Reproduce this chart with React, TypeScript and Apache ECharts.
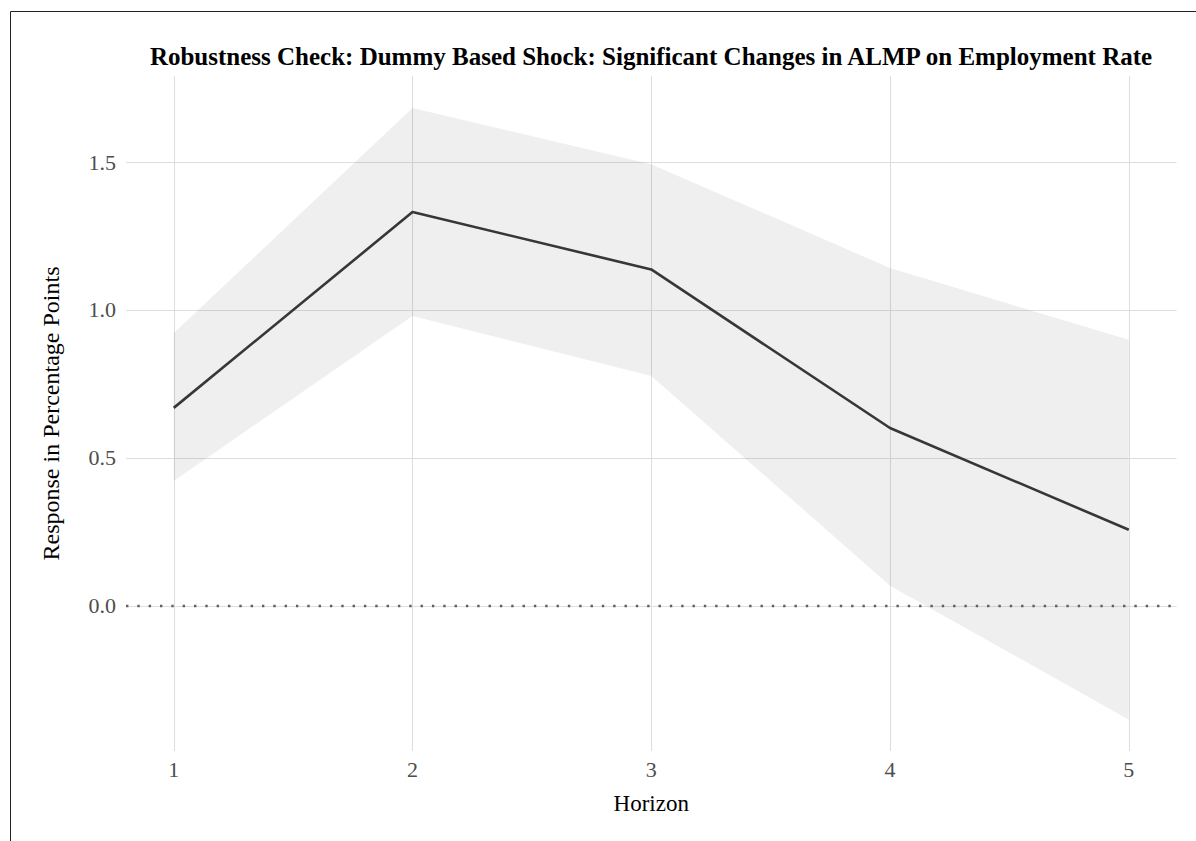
import React, { useEffect, useRef } from "react";
import * as echarts from "echarts";

const horizons = [1, 2, 3, 4, 5];
const response = [0.669, 1.331, 1.137, 0.601, 0.257];
const upper = [0.922, 1.683, 1.493, 1.142, 0.899];
const lower = [0.422, 0.98, 0.777, 0.068, -0.385];
const xTicks = [1, 2, 3, 4, 5];
const yTicks = [0, 0.5, 1.0, 1.5];
const yTickLabels = ["0.0", "0.5", "1.0", "1.5"];
const zeroLine = [0];

const TITLE = "Robustness Check: Dummy Based Shock: Significant Changes in ALMP on Employment Rate";
const FONT = "'Liberation Serif', 'Times New Roman', 'DejaVu Serif', serif";

export default function App() {
  const ref = useRef<HTMLDivElement>(null);
  useEffect(() => {
    if (!ref.current) return;
    const chart = echarts.init(ref.current, null, { renderer: "svg" });
    const W = 1196;
    const H = 841;
    const left = 126;
    const right = 1176.5;
    const top = 76;
    const bottom = 751;
    chart.setOption({
      animation: false,
      backgroundColor: "#ffffff",
      textStyle: { fontFamily: FONT },
      grid: { left: left, right: W - right, top: top, bottom: H - bottom, containLabel: false },
      graphic: [
        { type: "line", shape: { x1: 10.5, y1: 11.5, x2: W, y2: 11.5 }, style: { stroke: "#222", lineWidth: 1 }, silent: true },
        { type: "line", shape: { x1: 10.5, y1: 11.5, x2: 10.5, y2: H }, style: { stroke: "#222", lineWidth: 1 }, silent: true },
        {
          type: "text",
          x: 651,
          y: 56,
          style: {
            text: TITLE,
            fontFamily: FONT,
            fontWeight: "bold",
            fontSize: 25,
            fill: "#000",
            textAlign: "center",
            textVerticalAlign: "middle",
          },
          silent: true,
        },
      ],
      xAxis: {
        type: "value",
        min: 0.8,
        max: 5.2,
        name: "Horizon",
        nameLocation: "middle",
        nameGap: 41,
        nameTextStyle: { fontFamily: FONT, fontSize: 23, color: "#000" },
        axisLine: { show: false },
        axisTick: { show: false },
        splitLine: { show: false },
        axisLabel: {
          margin: 7,
          fontFamily: FONT,
          fontSize: 22,
          color: "#4d4d4d",
          formatter: (v: number) => {
            const i = xTicks.indexOf(v);
            return i >= 0 ? String(xTicks[i]) : "";
          },
        },
      },
      yAxis: {
        type: "value",
        min: -0.491,
        max: 1.791,
        name: "Response in Percentage Points",
        nameLocation: "middle",
        nameGap: 63,
        nameRotate: 90,
        nameTextStyle: { fontFamily: FONT, fontSize: 24, color: "#000" },
        axisLine: { show: false },
        axisTick: { show: false },
        splitLine: { show: false },
        axisLabel: {
          margin: 10,
          fontFamily: FONT,
          fontSize: 22,
          color: "#4d4d4d",
          formatter: (v: number) => {
            const i = yTicks.findIndex((t) => Math.abs(t - v) < 1e-9);
            return i >= 0 ? yTickLabels[i] : "";
          },
        },
      },
      series: [
        {
          type: "custom",
          name: "band",
          data: horizons.map((h, i) => [h, lower[i], upper[i]]),
          encode: { x: 0, y: [1, 2] },
          silent: true,
          z: 2,
          renderItem: (params: any, api: any) => {
            if (params.dataIndex !== 0) return null;
            const upPts = horizons.map((h, i) => api.coord([h, upper[i]]));
            const loPts = horizons.map((h, i) => api.coord([h, lower[i]])).reverse();
            return {
              type: "polygon",
              shape: { points: upPts.concat(loPts) },
              style: { fill: "rgba(0,0,0,0.062)", stroke: "none" },
            };
          },
        },
        {
          type: "line",
          name: "response",
          data: horizons.map((h, i) => [h, response[i]]),
          symbol: "none",
          lineStyle: { color: "#373737", width: 2.6 },
          silent: true,
          z: 3,
          markLine: {
            silent: true,
            symbol: ["none", "none"],
            label: { show: false },
            z: 1,
            lineStyle: { color: "#dedede", width: 1.1, type: "solid" },
            emphasis: { disabled: true },
            data: [
              ...xTicks.map((v) => ({ xAxis: v })),
              ...yTicks.map((v) => ({ yAxis: v })),
            ],
          },
        },
        {
          type: "line",
          name: "zero",
          data: [],
          symbol: "none",
          silent: true,
          z: 4,
          markLine: {
            silent: true,
            symbol: ["none", "none"],
            label: { show: false },
            z: 4,
            lineStyle: { color: "#5f5f5f", width: 2.4, type: [2.4, 8.93], cap: "butt" },
            emphasis: { disabled: true },
            data: zeroLine.map((v) => ({ yAxis: v })),
          },
        },
      ],
    });
    return () => chart.dispose();
  }, []);
  return (
    <div
      ref={ref}
      style={{ position: "fixed", left: 0, top: 0, width: 1196, height: 841 }}
    />
  );
}
